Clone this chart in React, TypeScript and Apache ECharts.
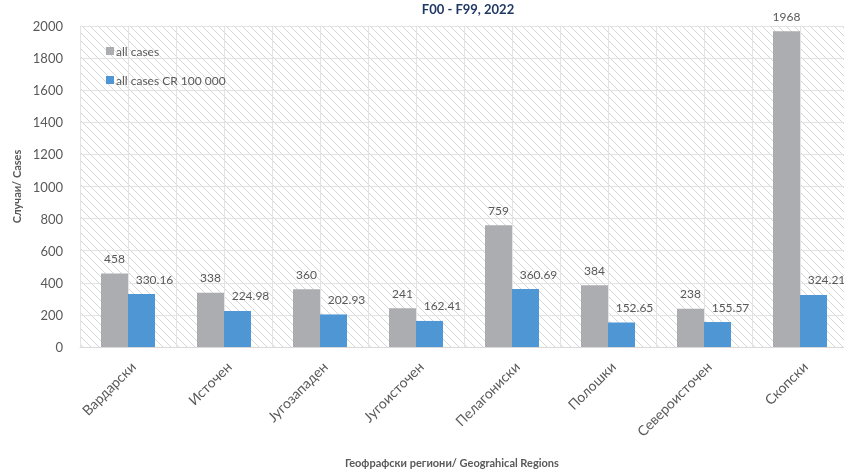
import React, { useEffect, useRef } from "react";
import * as echarts from "echarts";

const categories = ["Вардарски", "Источен", "Југозападен", "Југоисточен", "Пелагониски", "Полошки", "Североисточен", "Скопски"];
const allCases = [458, 338, 360, 241, 759, 384, 238, 1968];
const allCasesCR = [330.16, 224.98, 202.93, 162.41, 360.69, 152.65, 155.57, 324.21];
const yTicks = { min: 0, max: 2000, interval: 200 };

function makeHatch(): HTMLCanvasElement {
  const c = document.createElement("canvas");
  c.width = 8;
  c.height = 8;
  const ctx = c.getContext("2d")!;
  ctx.fillStyle = "#ffffff";
  ctx.fillRect(0, 0, 8, 8);
  ctx.strokeStyle = "#d6d6d6";
  ctx.lineWidth = 1;
  ctx.beginPath();
  ctx.moveTo(-1, -1);
  ctx.lineTo(9, 9);
  ctx.moveTo(-1, 7);
  ctx.lineTo(1, 9);
  ctx.moveTo(7, -1);
  ctx.lineTo(9, 1);
  ctx.stroke();
  return c;
}

export default function App() {
  const ref = useRef<HTMLDivElement>(null);
  useEffect(() => {
    if (!ref.current) return;
    const chart = echarts.init(ref.current, null, { renderer: "svg" });
    const font = "Lato, 'Noto Sans', sans-serif";
    const hatch = makeHatch();
    chart.setOption({
      animation: false,
      textStyle: { fontFamily: font },
      title: {
        text: "F00 - F99, 2022",
        left: 463,
        top: -3,
        textAlign: "center",
        textStyle: { fontSize: 13, fontWeight: "bold", color: "#1f3864", fontFamily: font },
      },
      legend: {
        orient: "vertical",
        left: 101,
        top: 40,
        itemWidth: 8,
        itemHeight: 8,
        itemGap: 17,
        icon: "rect",
        textStyle: { fontSize: 12, color: "#595959", fontFamily: font, padding: [0, 0, 0, -3] },
        data: ["all cases", "all cases CR 100 000"],
      },
      grid: {
        left: 80,
        right: -4,
        top: 26,
        bottom: 122,
        outerBoundsMode: "none",
        containLabel: false,
        show: true,
        borderWidth: 0,
        backgroundColor: { image: hatch, repeat: "repeat" } as any,
      },
      xAxis: [
        {
          type: "category",
          data: categories,
          axisLine: { lineStyle: { color: "#d9d9d9" } },
          axisTick: { show: false },
          axisLabel: { rotate: 45, fontSize: 14, color: "#595959", margin: 12, verticalAlign: "top", fontFamily: font },
          splitLine: { show: false },
          name: "Геофрафски региони/ Geograhical Regions",
          nameLocation: "middle",
          nameGap: 110,
          nameTextStyle: { fontSize: 11, fontWeight: "bold", color: "#595959", fontFamily: font, padding: [0, 24, 0, 0] },
        },
        {
          type: "value",
          min: 0,
          max: 16,
          interval: 1,
          position: "bottom",
          axisLine: { show: false },
          axisTick: { show: false },
          axisLabel: { show: false },
          splitLine: { show: true, lineStyle: { color: "#e3e3e3", width: 1 } },
        },
      ],
      yAxis: {
        type: "value",
        min: yTicks.min,
        max: yTicks.max,
        interval: yTicks.interval,
        axisLine: { show: false },
        axisTick: { show: false },
        axisLabel: { fontSize: 13, color: "#595959", margin: 17, fontFamily: font, formatter: (v: number) => String(v) },
        splitLine: { lineStyle: { color: "#e3e3e3", width: 1 } },
        name: "Случаи/ Cases",
        nameLocation: "middle",
        nameGap: 58,
        nameTextStyle: { fontSize: 11, fontWeight: "bold", color: "#595959", fontFamily: font },
      },
      series: [
        {
          name: "all cases",
          type: "bar",
          xAxisIndex: 0,
          data: allCases,
          barWidth: 27,
          barGap: "0%",
          itemStyle: { color: "#acadb1" },
          label: { show: true, position: "top", distance: 9, fontSize: 12, color: "#595959", fontFamily: font },
        },
        {
          name: "all cases CR 100 000",
          type: "bar",
          xAxisIndex: 0,
          data: allCasesCR,
          barWidth: 27,
          barGap: "0%",
          itemStyle: { color: "#4e96d4" },
          label: { show: true, position: "top", distance: 9, offset: [13, 0], fontSize: 12, color: "#595959", fontFamily: font },
        },
      ],
    });
    return () => chart.dispose();
  }, []);
  return <div ref={ref} style={{ width: 844, height: 469, position: "fixed", left: 0, top: 0 }} />;
}
